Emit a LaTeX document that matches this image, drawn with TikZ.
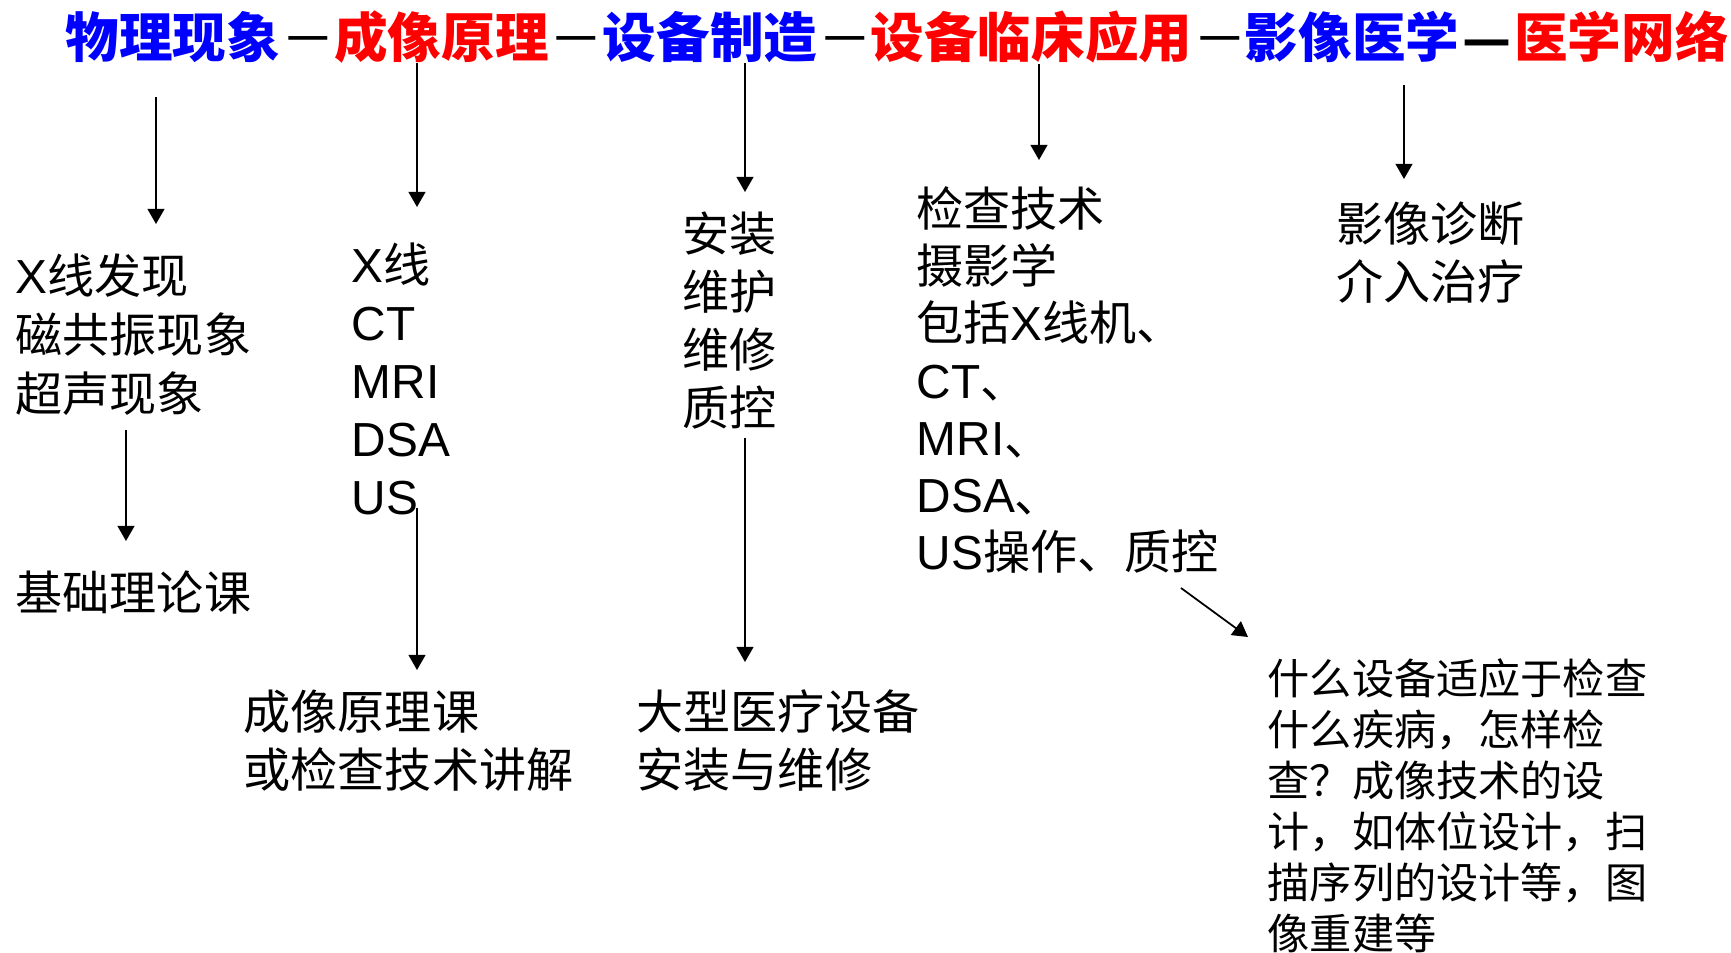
\documentclass[tikz,border=0pt]{standalone}
\usepackage{fontspec}
\setmainfont{Noto Sans CJK SC}
\newfontfamily\arialfont[Scale=1.015]{Liberation Sans}
\usetikzlibrary{arrows.meta}
\definecolor{myblue}{rgb}{0,0,1}
\definecolor{myred}{rgb}{1,0,0}
\newcommand{\ltn}[1]{{\arialfont #1}}

\begin{document}
\begin{tikzpicture}[
  head/.style={inner sep=0pt, font=\fontsize{15.25}{18}\selectfont\bfseries},
  joiner/.style={inner sep=0pt, font=\fontsize{15.25}{18}\selectfont},
  body/.style={anchor=west, inner sep=0pt, align=left, font=\fontsize{13.4}{16.5}\selectfont},
  arr/.style={-{Triangle[length=4.3pt,width=4.8pt]}, line width=0.5pt}]
\useasboundingbox (0,0) rectangle (17.31,-9.53);

% title line
\node[head, text=myblue] (phys) at (1.73,-0.37) {物理现象};
\node[joiner] (d1) at (3.085,-0.48) {－};
\node[head, text=myred] (img) at (4.415,-0.37) {成像原理};
\node[joiner] (d2) at (5.765,-0.48) {－};
\node[head, text=myblue] (make) at (7.10,-0.37) {设备制造};
\node[joiner] (d3) at (8.45,-0.48) {－};
\node[head, text=myred] (clin) at (10.315,-0.37) {设备临床应用};
\node[joiner] (d4) at (12.20,-0.48) {－};
\node[head, text=myblue] (rad) at (13.52,-0.37) {影像医学};
\node[head] (d5) at (14.87,-0.49) {—};
\node[head, text=myred] (net) at (16.215,-0.37) {医学网络};

% columns
\node[body, font=\fontsize{13.4}{16.8}\selectfont] (phen) at (0.15,-3.35)
  {\ltn{X}线发现\\磁共振现象\\超声现象};
\node[body] (basic) at (0.15,-5.93) {基础理论课};

\node[body] (modal) at (3.51,-3.79) {\ltn{X}线\\\ltn{CT}\\\ltn{MRI}\\\ltn{DSA}\\\ltn{US}};
\node[body] (course) at (2.43,-7.41) {成像原理课\\或检查技术讲解};

\node[body] (maint) at (6.82,-3.21) {安装\\维护\\维修\\质控};
\node[body] (equip) at (6.36,-7.41) {大型医疗设备\\安装与维修};

\node[body, font=\fontsize{13.4}{16.3}\selectfont] (tech) at (9.16,-3.80)
  {检查技术\\摄影学\\包括\ltn{X}线机、\\\ltn{CT}、\\\ltn{MRI}、\\\ltn{DSA}、\\\ltn{US}操作、质控};

\node[body] (diag) at (13.36,-2.53) {影像诊断\\介入治疗};

\node[body, font=\fontsize{12}{14.5}\selectfont] (quest) at (12.67,-8.055)
  {什么设备适应于检查\\什么疾病，怎样检\\查？成像技术的设\\计，如体位设计，扫\\描序列的设计等，图\\像重建等};

% arrow ends
\coordinate (p1) at (1.56,-0.97);   \coordinate (q1) at (1.56,-2.24);
\coordinate (p1b) at (1.26,-4.30);  \coordinate (q1b) at (1.26,-5.41);
\coordinate (p2) at (4.17,-0.63);   \coordinate (q2) at (4.17,-2.07);
\coordinate (p2b) at (4.17,-5.08);  \coordinate (q2b) at (4.17,-6.70);
\coordinate (p3) at (7.45,-0.63);   \coordinate (q3) at (7.45,-1.92);
\coordinate (p3b) at (7.45,-4.38);  \coordinate (q3b) at (7.45,-6.62);
\coordinate (p4) at (10.39,-0.64);  \coordinate (q4) at (10.39,-1.60);
\coordinate (p5) at (14.04,-0.85);  \coordinate (q5) at (14.04,-1.79);
\coordinate (p6) at (11.81,-5.88);  \coordinate (q6) at (12.48,-6.37);

\draw[arr] (p1) -- (q1);
\draw[arr] (p1b) -- (q1b);
\draw[arr] (p2) -- (q2);
\draw[arr] (p2b) -- (q2b);
\draw[arr] (p3) -- (q3);
\draw[arr] (p3b) -- (q3b);
\draw[arr] (p4) -- (q4);
\draw[arr] (p5) -- (q5);
\draw[arr] (p6) -- (q6);
\end{tikzpicture}
\end{document}
